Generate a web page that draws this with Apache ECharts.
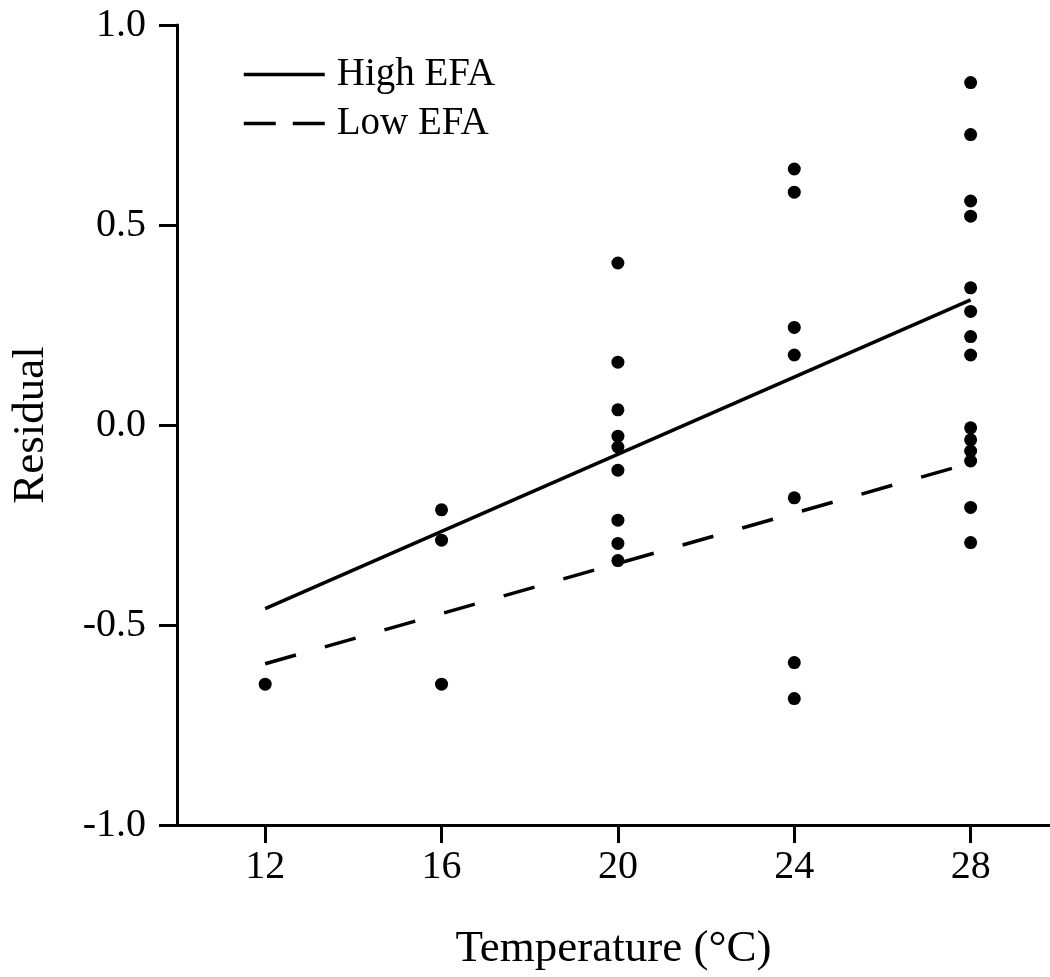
<!DOCTYPE html>
<html>
<head>
<meta charset="utf-8">
<title>Residual vs Temperature</title>
<script src="https://cdn.jsdelivr.net/npm/echarts@6/dist/echarts.min.js"></script>
<style>
  html, body { margin: 0; padding: 0; background: #fff; }
  #chart { width: 1050px; height: 977px; }
</style>
</head>
<body>
<div id="chart"></div>
<script>
// observed residuals (temperature in °C, residual)
var pointTemp = [
	12,
	16, 16, 16,
	20, 20, 20, 20, 20, 20, 20, 20, 20,
	24, 24, 24, 24, 24, 24, 24,
	28, 28, 28, 28, 28, 28, 28, 28, 28, 28, 28, 28, 28, 28
];
var pointResidual = [
	-0.648,
	-0.212, -0.288, -0.648,
	0.405, 0.157, 0.038, -0.028, -0.055, -0.113, -0.238, -0.296, -0.339,
	0.640, 0.582, 0.244, 0.175, -0.182, -0.594, -0.684,
	0.856, 0.726, 0.560, 0.522, 0.343, 0.284, 0.221, 0.175, -0.007, -0.037, -0.065, -0.090, -0.206, -0.294
];

// fitted lines
var fitTemp = [12, 28];
var highEfa = [-0.459, 0.313];
var lowEfa = [-0.597, -0.095];

var xTicks = [12, 16, 20, 24, 28];

var serif = '"Liberation Serif", "Times New Roman", serif';
var ink = '#000';

function pairs(xs, ys) {
	var out = [];
	for (var i = 0; i < xs.length; i++) {
		out.push([xs[i], ys[i]]);
	}
	return out;
}

var option = {
	backgroundColor: '#fff',
	animation: false,
	textStyle: { fontFamily: serif, color: ink },
	grid: {
		left: 177,
		top: 25,
		right: 0,
		bottom: 149
	},
	legend: {
		orient: 'vertical',
		left: 237,
		top: 50,
		itemWidth: 81,
		itemHeight: 14,
		itemGap: 10,
		itemStyle: { opacity: 0 },
		lineStyle: { width: 3.5, color: ink },
		data: [
			{ name: 'High EFA' },
			{ name: 'Low EFA', lineStyle: { width: 3.5, type: [32, 17] } }
		],
		textStyle: {
			fontFamily: serif,
			fontSize: 39,
			color: ink,
			padding: [0, 0, 0, 7]
		}
	},
	xAxis: {
		type: 'value',
		min: 10,
		max: 29.8,
		name: 'Temperature (°C)',
		nameLocation: 'middle',
		nameGap: 102,
		nameTextStyle: { fontFamily: serif, fontSize: 45, color: ink },
		splitLine: { show: false },
		axisLine: { onZero: false, lineStyle: { color: ink, width: 3 } },
		axisTick: {
			customValues: xTicks,
			length: 18,
			lineStyle: { color: ink, width: 3 }
		},
		axisLabel: {
			customValues: xTicks,
			margin: 22,
			fontFamily: serif,
			fontSize: 40,
			color: ink
		}
	},
	yAxis: {
		type: 'value',
		min: -1,
		max: 1,
		interval: 0.5,
		name: 'Residual',
		nameLocation: 'middle',
		nameGap: 123,
		nameTextStyle: { fontFamily: serif, fontSize: 45, color: ink },
		splitLine: { show: false },
		axisLine: { show: true, lineStyle: { color: ink, width: 3 } },
		axisTick: {
			show: true,
			length: 18,
			lineStyle: { color: ink, width: 3 }
		},
		axisLabel: {
			margin: 31,
			fontFamily: serif,
			fontSize: 40,
			color: ink,
			formatter: function (v) { return v.toFixed(1); }
		}
	},
	series: [
		{
			name: 'High EFA',
			type: 'line',
			data: pairs(fitTemp, highEfa),
			showSymbol: false,
			symbol: 'none',
			lineStyle: { color: ink, width: 3.5, type: 'solid' },
			itemStyle: { color: ink },
			z: 3
		},
		{
			name: 'Low EFA',
			type: 'line',
			data: pairs(fitTemp, lowEfa),
			showSymbol: false,
			symbol: 'none',
			lineStyle: { color: ink, width: 3.5, type: [32, 30] },
			itemStyle: { color: ink },
			z: 3
		},
		{
			name: 'Observed',
			type: 'scatter',
			data: pairs(pointTemp, pointResidual),
			symbol: 'circle',
			symbolSize: 13,
			itemStyle: { color: '#000', opacity: 1 },
			z: 2
		}
	]
};

var chart = echarts.init(document.getElementById('chart'));
chart.setOption(option);
</script>
</body>
</html>
